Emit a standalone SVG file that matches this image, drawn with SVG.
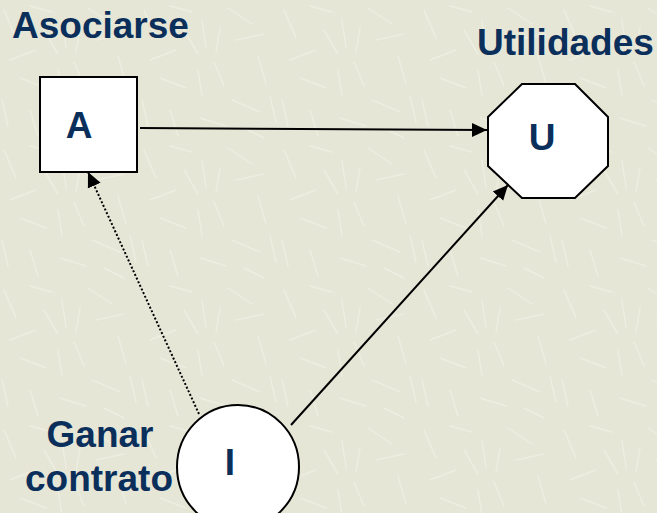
<svg xmlns="http://www.w3.org/2000/svg" width="657" height="513" viewBox="0 0 657 513">
  <defs>
    <style>
      .lbl { font-family: "Liberation Sans", Arial, sans-serif; font-weight: bold; font-size: 37px; fill: #0b2f5b; }
      .node { fill: #ffffff; stroke: #000000; stroke-width: 2; }
      .edge { fill: none; stroke: #000000; stroke-width: 2; }
      .dotted { stroke-width: 2; stroke-dasharray: 2 2; }
      .straw { stroke: #f2f2e8; stroke-width: 1.5; stroke-linecap: round; opacity: 0.55; }
    </style>
    <marker id="arrow" markerUnits="userSpaceOnUse" markerWidth="16" markerHeight="16" viewBox="0 0 16 16" refX="15" refY="8" orient="auto">
      <path d="M0,1 L15,8 L0,15 Z" fill="#000000"/>
    </marker>
    <!-- woven straw texture for the slide background -->
    <pattern id="straw" width="140" height="140" patternUnits="userSpaceOnUse">
      <rect width="140" height="140" fill="#e6e6d7"/>
      <line class="straw" x1="4" y1="10" x2="16" y2="38"/>
      <line class="straw" x1="30" y1="6" x2="52" y2="12"/>
      <line class="straw" x1="62" y1="20" x2="66" y2="48"/>
      <line class="straw" x1="10" y1="60" x2="36" y2="50"/>
      <line class="straw" x1="44" y1="30" x2="58" y2="54"/>
      <line class="straw" x1="74" y1="62" x2="84" y2="86"/>
      <line class="straw" x1="20" y1="78" x2="46" y2="88"/>
      <line class="straw" x1="88" y1="8" x2="112" y2="24"/>
      <line class="straw" x1="58" y1="70" x2="62" y2="96"/>
      <line class="straw" x1="2" y1="100" x2="8" y2="126"/>
      <line class="straw" x1="96" y1="40" x2="124" y2="34"/>
      <line class="straw" x1="118" y1="56" x2="126" y2="84"/>
      <line class="straw" x1="92" y1="100" x2="120" y2="112"/>
      <line class="straw" x1="30" y1="110" x2="38" y2="136"/>
      <line class="straw" x1="60" y1="118" x2="86" y2="126"/>
      <line class="straw" x1="130" y1="96" x2="136" y2="122"/>
      <line class="straw" x1="104" y1="128" x2="124" y2="138"/>
      <line class="straw" x1="80" y1="28" x2="76" y2="52"/>
    </pattern>
  </defs>

  <rect width="657" height="513" fill="url(#straw)"/>

  <!-- connectors -->
  <g id="connectors">
    <line class="edge" x1="140" y1="128" x2="487" y2="130" marker-end="url(#arrow)"/>
    <line class="edge dotted" x1="199" y1="414" x2="88" y2="172" marker-end="url(#arrow)"/>
    <line class="edge" x1="291" y1="425" x2="508" y2="185" marker-end="url(#arrow)"/>
  </g>

  <!-- decision node: Asociarse -->
  <g id="node-A">
    <text class="lbl" x="12" y="38">Asociarse</text>
    <rect class="node" x="40" y="77" width="97" height="95"/>
    <text class="lbl" x="79" y="138" text-anchor="middle">A</text>
  </g>

  <!-- value node: Utilidades -->
  <g id="node-U">
    <text class="lbl" x="477" y="55">Utilidades</text>
    <polygon class="node" points="522,84 575,84 608,117 608,166 575,198 522,198 488,166 488,117"/>
    <text class="lbl" x="542" y="150" text-anchor="middle">U</text>
  </g>

  <!-- chance node: Ganar contrato -->
  <g id="node-I">
    <text class="lbl" x="100" y="447" text-anchor="middle">Ganar</text>
    <text class="lbl" x="99" y="491" text-anchor="middle">contrato</text>
    <ellipse class="node" cx="238" cy="467" rx="61" ry="62"/>
    <text class="lbl" x="230" y="475" text-anchor="middle">I</text>
  </g>
</svg>
